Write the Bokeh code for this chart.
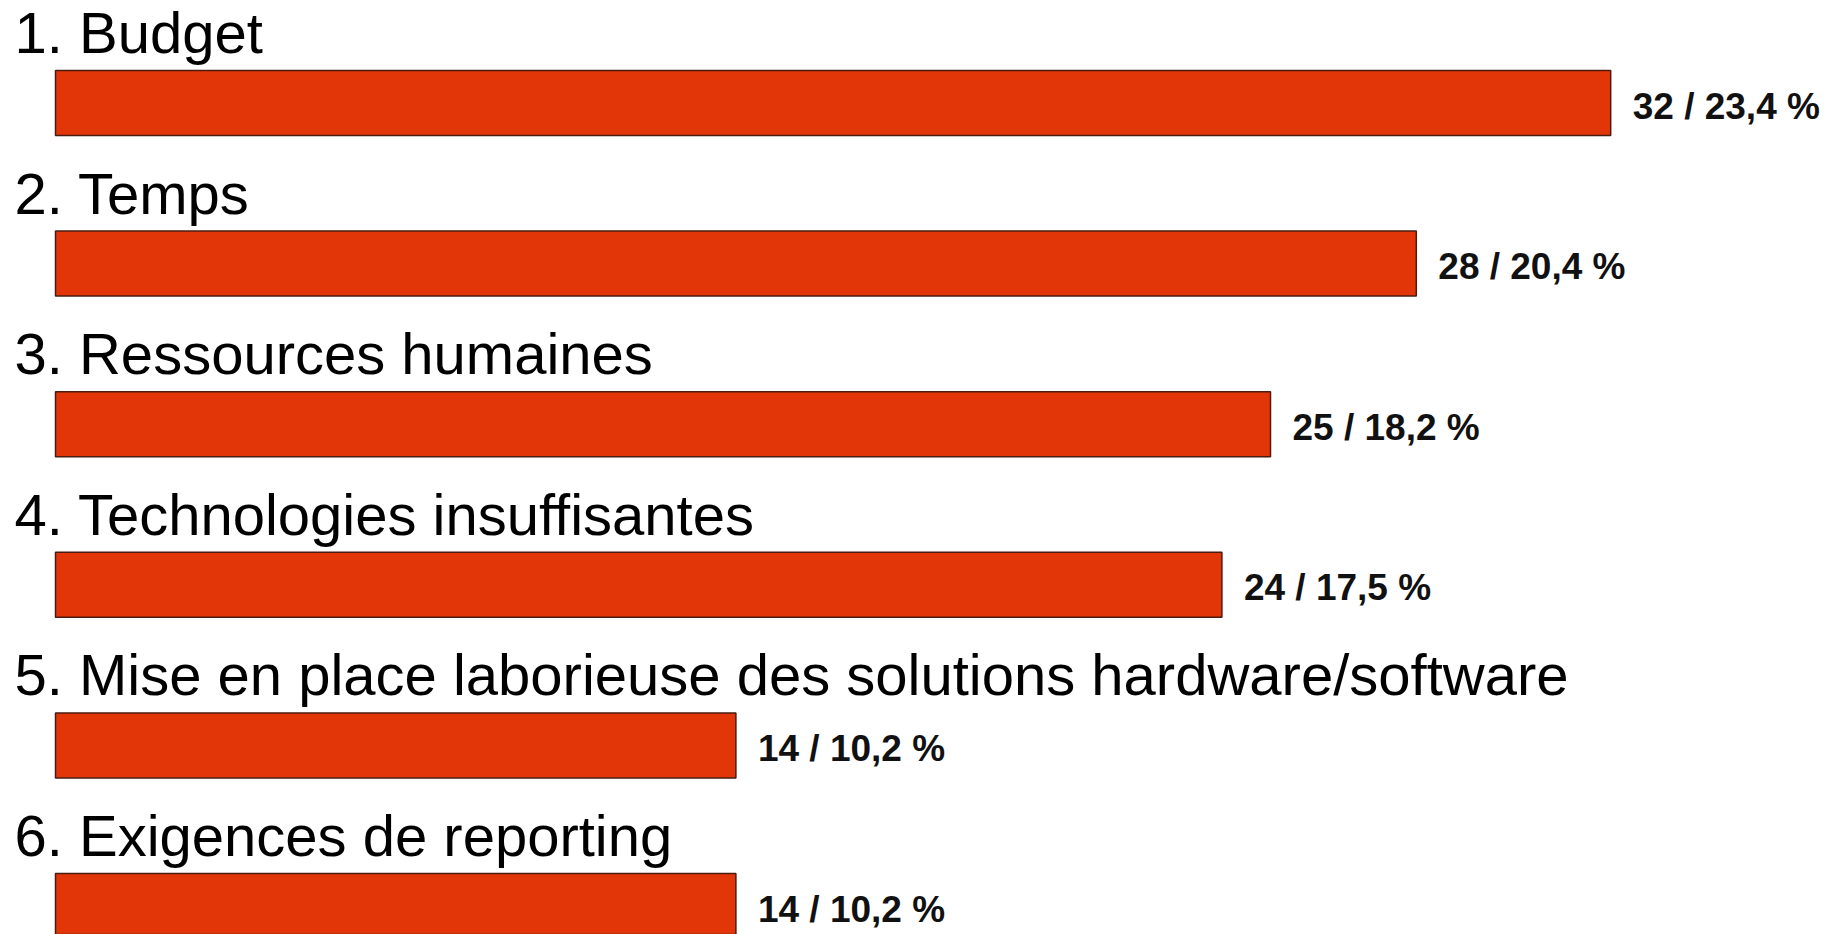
from bokeh.plotting import figure
from bokeh.models import Range1d, ColumnDataSource
from bokeh.core.properties import value
from bokeh.embed import file_html
from bokeh.resources import INLINE

categories = [
    "1. Budget",
    "2. Temps",
    "3. Ressources humaines",
    "4. Technologies insuffisantes",
    "5. Mise en place laborieuse des solutions hardware/software",
    "6. Exigences de reporting",
]
counts = [32, 28, 25, 24, 14, 14]
percents = ["23,4", "20,4", "18,2", "17,5", "10,2", "10,2"]

W, H = 1843, 934
px_per_unit_x = 48.6
px_per_row = 160.6
bar_h = 0.405
left_px = 55
first_center_px = 102.5
label_gap = 38 / px_per_row
value_shift = 3 / px_per_row

xs = -left_px / px_per_unit_x
ys = -first_center_px / px_per_row

idx = list(range(len(categories)))
src = ColumnDataSource(dict(
    y=idx,
    count=counts,
    label_y=[i - bar_h / 2 - label_gap for i in idx],
    value_y=[i + value_shift for i in idx],
    cat=categories,
    val=[f"{c} / {p} %" for c, p in zip(counts, percents)],
))

p = figure(width=W, height=H, output_backend="svg", toolbar_location=None,
           x_range=Range1d(xs, xs + W / px_per_unit_x),
           y_range=Range1d(ys + H / px_per_row, ys),
           min_border=0, outline_line_color=None)
p.axis.visible = False
p.grid.visible = False
p.background_fill_color = "white"
p.border_fill_color = "white"

p.hbar(y="y", left=0, right="count", height=bar_h, source=src,
       fill_color="#E33608", line_color="#4a1c10", line_width=1.5)

p.text(x=0, y="label_y", text="cat", source=src, x_offset=-41,
       text_font=value("Liberation Sans"), text_font_size="58px",
       text_color="black", text_baseline="alphabetic", text_align="left")

p.text(x="count", y="value_y", text="val", source=src, x_offset=22,
       text_font=value("Liberation Sans"), text_font_style="bold",
       text_font_size="37px", text_color="#111111",
       text_baseline="middle", text_align="left")

open("out.html", "w").write(file_html(p, INLINE))
